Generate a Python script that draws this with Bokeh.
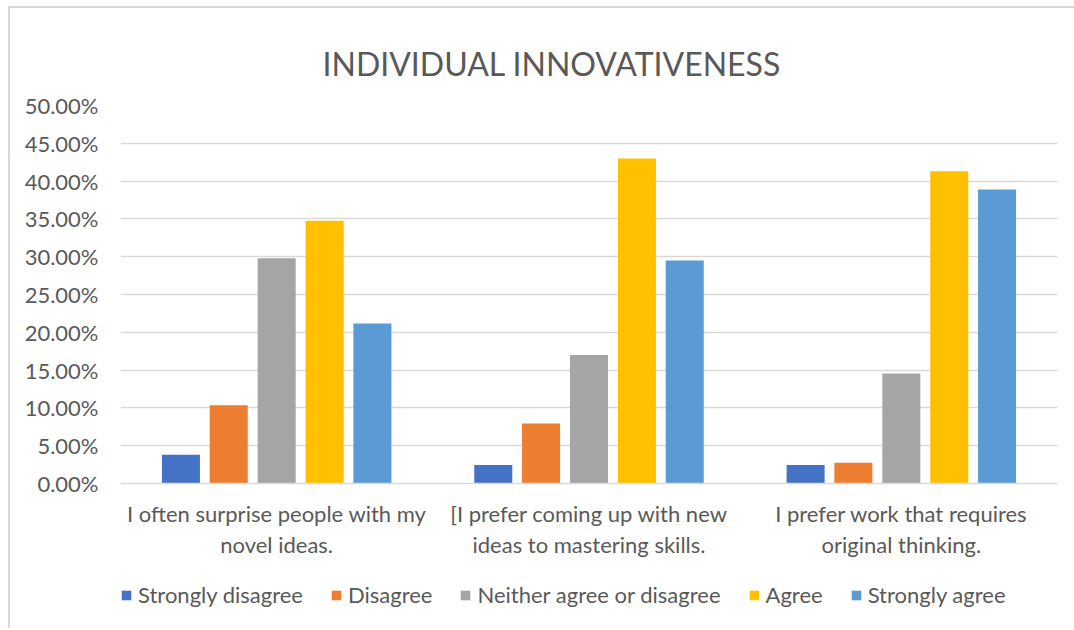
from bokeh.plotting import figure
from bokeh.models import ColumnDataSource, FactorRange, NumeralTickFormatter, Legend, LegendItem
from bokeh.layouts import column
from bokeh.transform import dodge
from bokeh.embed import file_html
from bokeh.resources import INLINE

categories = [
    "I often surprise people with my\nnovel ideas.",
    "[I prefer coming up with new\nideas to mastering skills.",
    "I prefer work that requires\noriginal thinking.",
]
series_names = ["Strongly disagree", "Disagree", "Neither agree or disagree", "Agree", "Strongly agree"]
strongly_disagree = [0.038, 0.0245, 0.0245]
disagree = [0.1035, 0.0795, 0.0275]
neither = [0.298, 0.170, 0.1455]
agree = [0.3475, 0.430, 0.413]
strongly_agree = [0.2115, 0.295, 0.389]
colors = ["#4472C4", "#ED7D31", "#A5A5A5", "#FFC000", "#5B9BD5"]
y_ticks = [0.0, 0.05, 0.10, 0.15, 0.20, 0.25, 0.30, 0.35, 0.40, 0.45, 0.50]

FONT = "Lato"
TXT = "#595959"
FS = "22px"

source = ColumnDataSource(dict(
    cat=categories,
    s0=strongly_disagree, s1=disagree, s2=neither, s3=agree, s4=strongly_agree,
))

p = figure(
    x_range=FactorRange(*categories, range_padding=0),
    y_range=(0, 0.5),
    width=1064, height=559,
    output_backend="svg", toolbar_location=None,
    min_border_left=110, min_border_right=17, min_border_top=97, min_border_bottom=84,
    title="INDIVIDUAL INNOVATIVENESS",
)

offsets = [-0.3065, -0.1535, 0.0, 0.1535, 0.3065]
for i, (name, off, col) in enumerate(zip(series_names, offsets, colors)):
    p.vbar(x=dodge("cat", off, range=p.x_range), top=f"s{i}", width=0.1217,
           source=source, fill_color=col, line_color=None)

p.title.align = "left"
p.title.offset = 202
p.title.text_font = FONT
p.title.text_font_size = "32px"
p.title.text_font_style = "normal"
p.title.text_color = TXT
p.title.standoff = 46

p.outline_line_color = None
p.background_fill_color = "white"
p.border_fill_color = "white"

p.xgrid.grid_line_color = None
p.ygrid.grid_line_color = "#d9d9d9"
p.ygrid.grid_line_width = 1.5
p.yaxis.ticker = y_ticks
p.yaxis.formatter = NumeralTickFormatter(format="0.00%")
p.yaxis.axis_line_color = None
p.yaxis.major_tick_line_color = None
p.yaxis.minor_tick_line_color = None
p.yaxis.major_tick_out = 0
p.yaxis.major_label_standoff = 22
p.yaxis.major_label_text_font = FONT
p.yaxis.major_label_text_font_size = FS
p.yaxis.major_label_text_color = TXT

p.xaxis.axis_line_color = "#d9d9d9"
p.xaxis.axis_line_width = 1.5
p.xaxis.major_tick_line_color = None
p.xaxis.major_tick_out = 0
p.xaxis.major_label_standoff = 16
p.xaxis.major_label_text_font = FONT
p.xaxis.major_label_text_font_size = FS
p.xaxis.major_label_text_color = TXT
p.xaxis.major_label_text_line_height = 1.15
p.xaxis.major_label_orientation = "horizontal"

# legend strip below the chart (its bars lie outside its y range, only the legend shows)
lg = figure(width=1064, height=61, x_range=FactorRange(*categories), y_range=(10, 11),
            output_backend="svg", toolbar_location=None,
            min_border=0, outline_line_color=None)
lg.axis.visible = False
lg.grid.visible = False
items = []
for i, (name, col) in enumerate(zip(series_names, colors)):
    r = lg.vbar(x="cat", top=f"s{i}", width=0.1, source=source, fill_color=col, line_color=None)
    items.append(LegendItem(label=name, renderers=[r]))
legend = Legend(items=items, orientation="horizontal", location=(0, 20),
                glyph_width=12, glyph_height=12, label_standoff=6, spacing=27,
                label_text_font=FONT, label_text_font_size=FS, label_text_color=TXT,
                border_line_color=None, background_fill_alpha=0, padding=0, margin=0)
lg.add_layout(legend)

layout = column(p, lg, spacing=0,
                styles={"margin-left": "8px", "margin-top": "6px",
                        "border-left": "2px solid #d9d9d9", "border-top": "2px solid #d9d9d9"})

open("out.html", "w").write(file_html(layout, INLINE))
